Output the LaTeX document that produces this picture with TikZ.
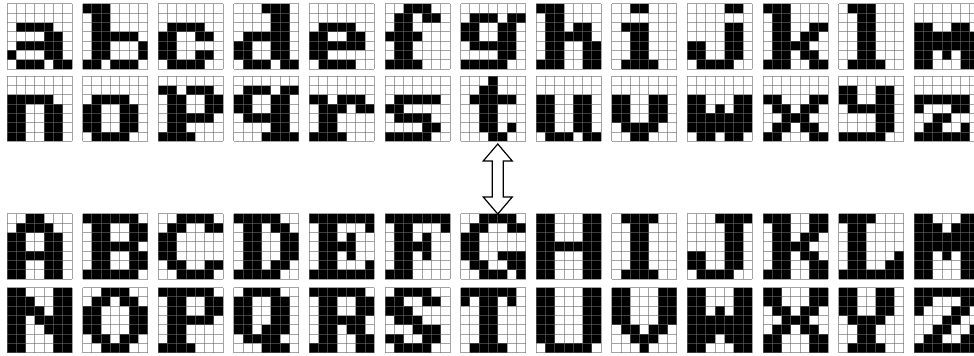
\documentclass[tikz,border=0pt]{standalone}
\usepackage{tikz}
\usetikzlibrary{calc}

% one row of a glyph: x = black cell, . = white cell
\newcount\glcol
\newcount\glrow
\def\glscan#1{%
  \ifx#1\relax\let\glnext\relax
  \else
    \if x#1\edef\gx{\the\glcol}\edef\gy{\the\glrow}%
      \fill[pix] (\gx,\gy) rectangle ++(1,1);\fi
    \advance\glcol by 1
    \let\glnext\glscan
  \fi\glnext}
\def\glline#1{\glcol=0 \glscan#1\relax\advance\glrow by 1 }

% 7x7 glyph: name, north west corner, seven rows
\newcommand\pixglyph[9]{%
  \node[cellbox] (#1) at #2 {};
  \begin{scope}[shift={(#1.north west)}, x=4.645pt, y=-4.65pt]
    \glrow=0
    \glline{#3}\glline{#4}\glline{#5}\glline{#6}\glline{#7}\glline{#8}\glline{#9}%
    \foreach \k in {0,...,7} {
      \draw[gridln] (\k,0) -- (\k,7);
      \draw[gridln] (0,\k) -- (7,\k);
    }
  \end{scope}}

\begin{document}
\begin{tikzpicture}[
  x=0.5pt, y=-0.5pt,
  cellbox/.style={inner sep=0pt, outer sep=0pt, anchor=north west,
                  minimum width=32.515pt, minimum height=32.55pt},
  pix/.style={fill=black},
  gridln/.style={draw=black!60, line width=0.5pt, opacity=0.6},
  dblarrow/.style={draw=black, fill=white, line width=0.6pt, line join=miter}
]
\useasboundingbox (0,0) rectangle (974,356);

% lower case, a to m
\pixglyph{a}{(7,4)}{.......}{.......}{.xxxx..}{....xx.}{.xxxxx.}{x...xx.}{.xxx.xx}
\pixglyph{b}{(82.6,4)}{xxx....}{.xx....}{.xx....}{.xxxxx.}{.xx...x}{.xx...x}{xx.xxx.}
\pixglyph{c}{(158.2,4)}{.......}{.......}{.xxxx..}{xx..xx.}{xx.....}{xx..xx.}{.xxxx..}
\pixglyph{d}{(233.8,4)}{...xxx.}{....xx.}{....xx.}{.xxxxx.}{xx..xx.}{xx..xx.}{.xxx.xx}
\pixglyph{e}{(309.4,4)}{.......}{.......}{.xxxx..}{xx..xx.}{xxxxxx.}{xx.....}{.xxxx..}
\pixglyph{f}{(385,4)}{..xxx..}{.xx.xx.}{.xx....}{xxxx...}{.xx....}{.xx....}{xxxx...}
\pixglyph{g}{(460.6,4)}{.......}{.xxx.xx}{xx..xx.}{xx..xx.}{.xxxxx.}{....xx.}{xxxxx..}
\pixglyph{h}{(536.2,4)}{xxx....}{.xx....}{.xx.xx.}{.xxxxx.}{.xx..xx}{.xx..xx}{xxx..xx}
\pixglyph{i}{(611.8,4)}{..xx...}{.......}{.xxx...}{..xx...}{..xx...}{..xx...}{.xxxx..}
\pixglyph{j}{(687.4,4)}{....xx.}{.......}{....xx.}{....xx.}{xx..xx.}{xx..xx.}{.xxxx..}
\pixglyph{k}{(763,4)}{xxx....}{.xx....}{.xx..xx}{.xx.xx.}{.xxxx..}{.xx.xx.}{xxx..xx}
\pixglyph{l}{(838.6,4)}{.xxx...}{..xx...}{..xx...}{..xx...}{..xx...}{..xx...}{.xxxx..}
\pixglyph{m}{(914.2,4)}{.......}{.......}{xx..xx.}{xxxxxxx}{xxxxxxx}{xx.x.xx}{xx...xx}

% lower case, n to z
\pixglyph{n}{(7,76.3)}{.......}{.......}{xxxxx..}{xx..xx.}{xx..xx.}{xx..xx.}{xx..xx.}
\pixglyph{o}{(82.6,76.3)}{.......}{.......}{.xxxx..}{xx..xx.}{xx..xx.}{xx..xx.}{.xxxx..}
\pixglyph{p}{(158.2,76.3)}{.......}{xx.xxx.}{.xx..xx}{.xx..xx}{.xxxxx.}{.xx....}{xxxx...}
\pixglyph{q}{(233.8,76.3)}{.......}{.xxx.xx}{xx..xx.}{xx..xx.}{.xxxxx.}{....xx.}{...xxxx}
\pixglyph{r}{(309.4,76.3)}{.......}{.......}{xx.xxx.}{.xxx.xx}{.xx....}{.xx....}{xxxx...}
\pixglyph{s}{(385,76.3)}{.......}{.......}{.xxxxx.}{xx.....}{.xxxx..}{....xx.}{xxxxx..}
\pixglyph{t}{(460.6,76.3)}{...x...}{..xx...}{.xxxxx.}{..xx...}{..xx...}{..xx.x.}{...xx..}
\pixglyph{u}{(536.2,76.3)}{.......}{.......}{xx..xx.}{xx..xx.}{xx..xx.}{xx..xx.}{.xxx.xx}
\pixglyph{v}{(611.8,76.3)}{.......}{.......}{xx..xx.}{xx..xx.}{xx..xx.}{.xxxx..}{..xx...}
\pixglyph{w}{(687.4,76.3)}{.......}{.......}{xx...xx}{xx.x.xx}{xxxxxxx}{xxxxxxx}{.xx.xx.}
\pixglyph{x}{(763,76.3)}{.......}{.......}{xx...xx}{.xx.xx.}{..xxx..}{.xx.xx.}{xx...xx}
\pixglyph{y}{(838.6,76.3)}{.......}{xx..xx.}{xx..xx.}{.xxxxx.}{....xx.}{....xx.}{xxxxx..}
\pixglyph{z}{(914.2,76.3)}{.......}{.......}{xxxxxx.}{x...xx.}{..xx...}{.xx..x.}{xxxxxx.}

% upper case, A to M
\pixglyph{A}{(7,214)}{..xx...}{.xxxx..}{xx..xx.}{xx..xx.}{xxxxxx.}{xx..xx.}{xx..xx.}
\pixglyph{B}{(82.6,214)}{xxxxxx.}{.xx..xx}{.xx..xx}{.xxxxx.}{.xx..xx}{.xx..xx}{xxxxxx.}
\pixglyph{C}{(158.2,214)}{..xxxx.}{.xx..xx}{xx.....}{xx.....}{xx.....}{.xx..xx}{..xxxx.}
\pixglyph{D}{(233.8,214)}{xxxxx..}{.xx.xx.}{.xx..xx}{.xx..xx}{.xx..xx}{.xx.xx.}{xxxxx..}
\pixglyph{E}{(309.4,214)}{xxxxxxx}{.xx...x}{.xx.x..}{.xxxx..}{.xx.x..}{.xx...x}{xxxxxxx}
\pixglyph{F}{(385,214)}{xxxxxxx}{.xx...x}{.xx.x..}{.xxxx..}{.xx.x..}{.xx....}{xxx....}
\pixglyph{G}{(460.6,214)}{..xxxx.}{.xx..xx}{xx.....}{xx.....}{xx..xxx}{.xx..xx}{..xxx.x}
\pixglyph{H}{(536.2,214)}{xx...xx}{xx...xx}{xx...xx}{xxxxxxx}{xx...xx}{xx...xx}{xx...xx}
\pixglyph{I}{(611.8,214)}{.xxxx..}{..xx...}{..xx...}{..xx...}{..xx...}{..xx...}{.xxxx..}
\pixglyph{J}{(687.4,214)}{...xxxx}{....xx.}{....xx.}{....xx.}{xx..xx.}{xx..xx.}{.xxxx..}
\pixglyph{K}{(763,214)}{xxx..xx}{.xx..xx}{.xx.xx.}{.xxxx..}{.xx.xx.}{.xx..xx}{xxx..xx}
\pixglyph{L}{(838.6,214)}{xxxx...}{.xx....}{.xx....}{.xx....}{.xx...x}{.xx..xx}{xxxxxxx}
\pixglyph{M}{(914.2,214)}{xx...xx}{xxx.xxx}{xxxxxxx}{xxxxxxx}{xx.x.xx}{xx...xx}{xx...xx}

% upper case, N to Z
\pixglyph{N}{(7,287.7)}{xx...xx}{xxx..xx}{xxxx.xx}{xx.xxxx}{xx..xxx}{xx...xx}{xx...xx}
\pixglyph{O}{(82.6,287.7)}{..xxx..}{.xx.xx.}{xx...xx}{xx...xx}{xx...xx}{.xx.xx.}{..xxx..}
\pixglyph{P}{(158.2,287.7)}{xxxxxx.}{.xx..xx}{.xx..xx}{.xxxxx.}{.xx....}{.xx....}{xxxx...}
\pixglyph{Q}{(233.8,287.7)}{.xxxx..}{xx..xx.}{xx..xx.}{xx..xx.}{xx.xxx.}{.xxxx..}{...xxx.}
\pixglyph{R}{(309.4,287.7)}{xxxxxx.}{.xx..xx}{.xx..xx}{.xxxxx.}{.xx.xx.}{.xx..xx}{xxx..xx}
\pixglyph{S}{(385,287.7)}{.xxxx..}{xx..xx.}{xxx....}{.xxx...}{...xxx.}{xx..xx.}{.xxxx..}
\pixglyph{T}{(460.6,287.7)}{xxxxxx.}{x.xx.x.}{..xx...}{..xx...}{..xx...}{..xx...}{.xxxx..}
\pixglyph{U}{(536.2,287.7)}{xx...xx}{xx...xx}{xx...xx}{xx...xx}{xx...xx}{xx...xx}{.xxxxx.}
\pixglyph{V}{(611.8,287.7)}{xx...xx}{xx...xx}{xx...xx}{xx...xx}{.xx.xx.}{..xxx..}{...x...}
\pixglyph{W}{(687.4,287.7)}{xx...xx}{xx...xx}{xx.x.xx}{xxxxxxx}{xxxxxxx}{xxx.xxx}{xx...xx}
\pixglyph{X}{(763,287.7)}{xx...xx}{xx...xx}{.xx.xx.}{..xxx..}{.xx.xx.}{xx...xx}{xx...xx}
\pixglyph{Y}{(838.6,287.7)}{xx..xx.}{xx..xx.}{xx..xx.}{.xxxx..}{..xx...}{..xx...}{.xxxx..}
\pixglyph{Z}{(914.2,287.7)}{xxxxxxx}{xx...xx}{x...xx.}{...xx..}{..xx..x}{.xx..xx}{xxxxxxx}

% hollow double arrow between t and G
\coordinate (tip-t) at ([xshift=2.32pt, yshift=-1.3pt]t.south);
\coordinate (tip-G) at ([xshift=2.32pt]G.north);
\draw[dblarrow] (tip-t) -- ($(tip-t)+(14.5,17)$) -- ($(tip-t)+(5.5,17)$)
  -- ($(tip-G)+(5.5,-17)$) -- ($(tip-G)+(14.5,-17)$) -- (tip-G)
  -- ($(tip-G)+(-14.5,-17)$) -- ($(tip-G)+(-5.5,-17)$)
  -- ($(tip-t)+(-5.5,17)$) -- ($(tip-t)+(-14.5,17)$) -- cycle;

\end{tikzpicture}
\end{document}
